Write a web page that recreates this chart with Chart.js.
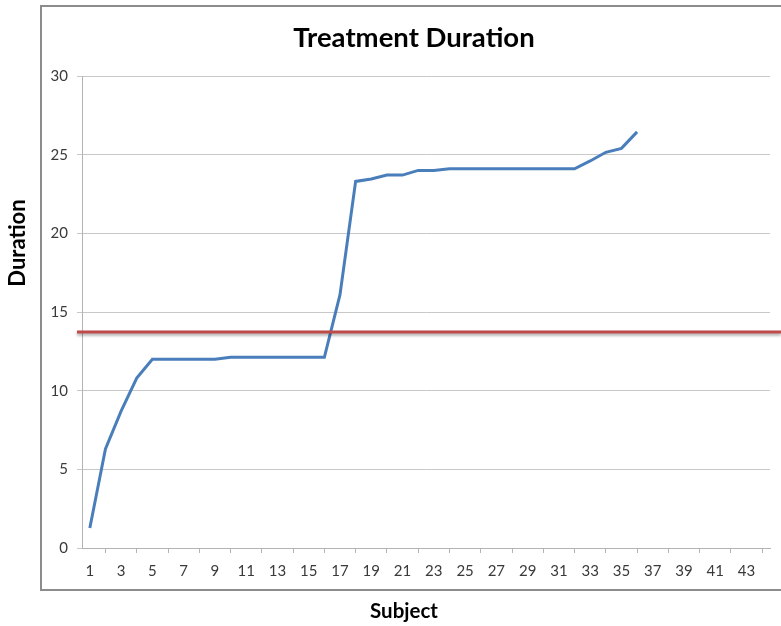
<!DOCTYPE html>
<html>
<head>
<meta charset="utf-8">
<title>Treatment Duration</title>
<script src="https://cdn.jsdelivr.net/npm/chart.js@4.4.1/dist/chart.umd.min.js"></script>
<style>
  html, body { margin: 0; padding: 0; background: #fff; }
  #wrap { width: 781px; height: 626px; }
</style>
</head>
<body>
<div id="wrap"><canvas id="durationChart" width="781" height="626"></canvas></div>
<script>
// subjects 1..44, only 1..36 have a value
const subjects = [];
for (let i = 1; i <= 44; i++) subjects.push(String(i));

const durations = [
    1.27, 6.3, 8.7, 10.8, 12.0, 12.0, 12.0, 12.0, 12.0, 12.12,
    12.12, 12.12, 12.12, 12.12, 12.12, 12.12, 16.1, 23.3, 23.45, 23.7,
    23.7, 24.0, 24.0, 24.1, 24.1, 24.1, 24.1, 24.1, 24.1, 24.1,
    24.1, 24.1, 24.6, 25.15, 25.4, 26.45
];

const referenceLevel = 13.73;
const yTicks = [0, 5, 10, 15, 20, 25, 30];

const fontFamily = 'Lato, "Open Sans", sans-serif';

// outer frame, titles and the horizontal reference line
const decorations = {
    id: 'decorations',
    beforeDraw(chart) {
        const ctx = chart.ctx;
        ctx.save();
        ctx.fillStyle = '#fff';
        ctx.fillRect(0, 0, chart.width, chart.height);
        ctx.strokeStyle = '#8c8c8c';
        ctx.lineWidth = 2;
        ctx.strokeRect(41, 6, chart.width + 10, 584);
        ctx.restore();
    },
    afterDatasetsDraw(chart) {
        const ctx = chart.ctx;
        const y = chart.scales.y.getPixelForValue(referenceLevel);
        ctx.save();
        ctx.strokeStyle = '#be4b48';
        ctx.lineWidth = 3;
        ctx.shadowColor = 'rgba(0,0,0,0.35)';
        ctx.shadowBlur = 3;
        ctx.shadowOffsetY = 2;
        ctx.beginPath();
        ctx.moveTo(chart.chartArea.left - 5, y);
        ctx.lineTo(chart.width, y);
        ctx.stroke();
        ctx.restore();
    },
    afterDraw(chart) {
        const ctx = chart.ctx;
        ctx.save();
        ctx.fillStyle = '#000';
        ctx.textAlign = 'center';
        ctx.textBaseline = 'middle';

        ctx.font = 'bold 27.5px ' + fontFamily;
        ctx.fillText('Treatment Duration', 414, 38);

        ctx.font = 'bold 20.5px ' + fontFamily;
        ctx.fillText('Subject', 404, 611);

        ctx.font = 'bold 22px ' + fontFamily;
        ctx.translate(18, 243);
        ctx.rotate(-Math.PI / 2);
        ctx.fillText('Duration', 0, 0);
        ctx.restore();
    }
};

const ctx = document.getElementById('durationChart').getContext('2d');
new Chart(ctx, {
    type: 'line',
    data: {
        labels: subjects,
        datasets: [{
            label: 'Duration',
            data: durations,
            borderColor: '#4a7ebb',
            borderWidth: 3,
            pointRadius: 0,
            tension: 0,
            fill: false
        }]
    },
    options: {
        responsive: false,
        animation: false,
        layout: { padding: { left: 0, right: 11, top: 76, bottom: 0 } },
        plugins: {
            legend: { display: false },
            tooltip: { enabled: false },
            title: { display: false }
        },
        scales: {
            x: {
                offset: true,
                grid: {
                    offset: true,
                    drawOnChartArea: false,
                    drawTicks: true,
                    tickLength: 5,
                    color: '#b3b3b3'
                },
                border: { color: '#b3b3b3', width: 1 },
                ticks: {
                    autoSkip: false,
                    maxRotation: 0,
                    padding: 9,
                    color: '#3a3a3a',
                    font: { family: fontFamily, size: 15 },
                    callback: function(value, index) {
                        return index % 2 === 0 ? this.getLabelForValue(value) : null;
                    }
                },
                afterFit(scale) { scale.height = 78; }
            },
            y: {
                min: 0,
                max: 30,
                afterBuildTicks(scale) {
                    scale.ticks = yTicks.map(v => ({ value: v }));
                },
                grid: {
                    color: '#c8c8c8',
                    tickLength: 5
                },
                border: { color: '#b3b3b3', width: 1 },
                ticks: {
                    padding: 9,
                    color: '#3a3a3a',
                    font: { family: fontFamily, size: 15 }
                },
                afterFit(scale) { scale.width = 82; }
            }
        }
    },
    plugins: [decorations]
});
</script>
</body>
</html>
